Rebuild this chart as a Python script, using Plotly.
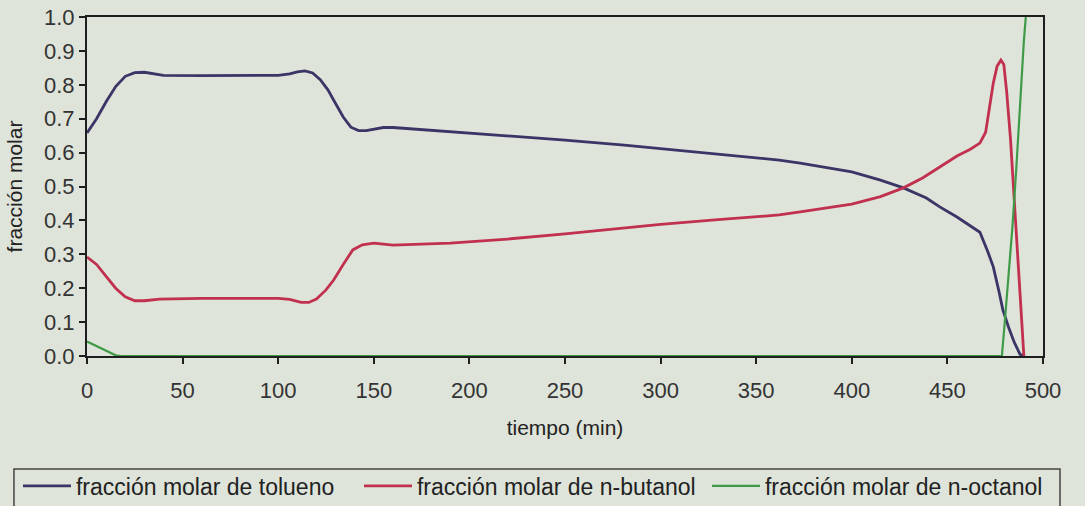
import plotly.graph_objects as go

# Composición molar del destilado frente al tiempo
t_tolueno = [0, 5, 10, 15, 20, 25, 30, 35, 40, 60, 80, 100, 106, 110, 114, 118, 122, 126,
             130, 134, 138, 142, 146, 150, 155, 160, 170, 190, 216, 250, 281, 300, 330,
             362, 373, 390, 400, 415, 427, 439, 446, 455, 462, 467, 471, 474, 477, 479,
             482, 485, 488, 490]
x_tolueno = [0.658, 0.700, 0.750, 0.795, 0.825, 0.836, 0.837, 0.832, 0.828, 0.827, 0.827,
             0.828, 0.832, 0.838, 0.841, 0.835, 0.815, 0.785, 0.745, 0.705, 0.675, 0.665,
             0.665, 0.670, 0.674, 0.674, 0.670, 0.661, 0.652, 0.637, 0.622, 0.612, 0.595,
             0.578, 0.569, 0.553, 0.543, 0.519, 0.496, 0.466, 0.440, 0.410, 0.385, 0.365,
             0.310, 0.263, 0.190, 0.136, 0.085, 0.040, 0.005, 0.0]

t_butanol = [0, 5, 10, 15, 20, 25, 30, 38, 60, 80, 100, 106, 112, 116, 120, 125, 129, 134,
             139, 144, 150, 155, 160, 190, 220, 250, 281, 300, 330, 362, 373, 390, 400,
             415, 427, 437, 446, 455, 462, 467, 470, 472, 474, 476, 478, 479.5, 481, 483,
             485, 486.5, 488, 490]
x_butanol = [0.292, 0.270, 0.235, 0.200, 0.175, 0.163, 0.163, 0.168, 0.170, 0.170, 0.170,
             0.167, 0.158, 0.158, 0.168, 0.195, 0.224, 0.270, 0.313, 0.328, 0.333, 0.330,
             0.327, 0.333, 0.345, 0.360, 0.378, 0.388, 0.402, 0.416, 0.425, 0.440, 0.448,
             0.470, 0.496, 0.525, 0.558, 0.590, 0.610, 0.628, 0.660, 0.730, 0.805, 0.855,
             0.873, 0.860, 0.780, 0.640, 0.460, 0.330, 0.180, 0.0]

t_octanol = [0, 5, 10, 15, 18, 478.5, 480, 482, 484, 486, 488, 490, 491]
x_octanol = [0.043, 0.030, 0.015, 0.002, 0.0, 0.0, 0.10, 0.24, 0.38, 0.55, 0.75, 0.93, 1.0]

x_ticks = list(range(0, 501, 50))
y_ticks = [round(i * 0.1, 1) for i in range(11)]

bg = "#dee4da"
font_family = "Liberation Sans, Arial, sans-serif"

fig = go.Figure()
fig.add_trace(go.Scatter(x=t_tolueno, y=x_tolueno, mode="lines",
                         name="fracción molar de tolueno", legendwidth=278,
                         line=dict(color="#3b3466", width=2.8)))
fig.add_trace(go.Scatter(x=t_butanol, y=x_butanol, mode="lines",
                         name="fracción molar de n-butanol", legendwidth=285,
                         line=dict(color="#c2304f", width=2.8)))
fig.add_trace(go.Scatter(x=t_octanol, y=x_octanol, mode="lines",
                         name="fracción molar de n-octanol", legendwidth=280,
                         line=dict(color="#3f9a48", width=2.2)))

axis_common = dict(showline=True, linecolor="#1e1e1e", linewidth=2, mirror=True,
                   showgrid=False, zeroline=False, ticks="outside", ticklen=6,
                   tickwidth=1.5, tickcolor="#1e1e1e",
                   tickfont=dict(family=font_family, size=22, color="#333333"))

fig.update_xaxes(range=[0, 500], tickvals=x_ticks, ticklabelstandoff=8,
                 title=dict(text="tiempo (min)", standoff=18,
                            font=dict(family=font_family, size=21, color="#222222")),
                 **axis_common)
fig.update_yaxes(range=[0, 1], tickvals=y_ticks, tickformat=".1f",
                 title=dict(text="fracción molar", standoff=16,
                            font=dict(family=font_family, size=21, color="#222222")),
                 **axis_common)

# recuadro de la leyenda
fig.add_shape(type="rect", xref="paper", yref="paper",
              x0=-0.0764, x1=1.0178, y0=-0.3333, y1=-0.48,
              line=dict(color="#444444", width=1.5), fillcolor="rgba(0,0,0,0)")

fig.update_layout(
    width=1085, height=506,
    margin=dict(l=87, r=42, t=17, b=150, autoexpand=False),
    paper_bgcolor=bg, plot_bgcolor=bg,
    font=dict(family=font_family, color="#222222"),
    showlegend=True,
    legend=dict(orientation="h", x=-0.0722, xanchor="left", y=-0.3835, yanchor="middle",
                bgcolor="rgba(0,0,0,0)", borderwidth=0,
                font=dict(family=font_family, size=23, color="#222222"),
                itemwidth=48),
)

fig.write_html("out.html")
